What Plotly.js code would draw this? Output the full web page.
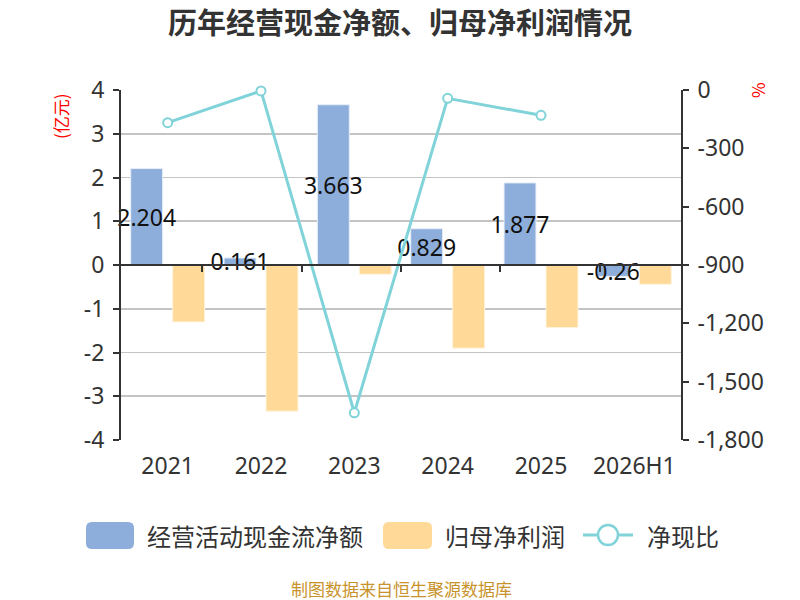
<!DOCTYPE html>
<html>
<head>
<meta charset="utf-8">
<script src="https://cdn.plot.ly/plotly-3.0.1.min.js"></script>
<style>
  html, body { margin: 0; padding: 0; background: #fff; }
  #chart { width: 800px; height: 600px; }
</style>
</head>
<body>
<div id="chart"></div>
<script>
var years = ['2021', '2022', '2023', '2024', '2025', '2026H1'];
var cashFlow = [2.204, 0.161, 3.663, 0.829, 1.877, -0.26];
var netProfit = [-1.30, -3.34, -0.21, -1.90, -1.43, -0.44];
var cashRatio = [-168, -4.8, -1660, -43, -130, null];

var leftTicks = [-4, -3, -2, -1, 0, 1, 2, 3, 4];
var leftTickText = ['-4', '-3', '-2', '-1', '0', '1', '2', '3', '4'];
var rightTicks = [-1800, -1500, -1200, -900, -600, -300, 0];
var rightTickText = ['-1,800', '-1,500', '-1,200', '-900', '-600', '-300', '0'];

var cashLabels = cashFlow.map(function(v) { return String(v); });

// plot area in pixels: left 121, right 681, top 90, bottom 440
function px(x) { return (x - 121) / 560; }
function py(y) { return (440 - y) / 350; }

function roundRect(x0, y0, x1, y1, r) {
  var rx = r / 560, ry = r / 350;
  var a = px(x0), b = px(x1), t = py(y0), u = py(y1);
  return 'M' + (a + rx) + ',' + t +
    ' L' + (b - rx) + ',' + t + ' Q' + b + ',' + t + ' ' + b + ',' + (t - ry) +
    ' L' + b + ',' + (u + ry) + ' Q' + b + ',' + u + ' ' + (b - rx) + ',' + u +
    ' L' + (a + rx) + ',' + u + ' Q' + a + ',' + u + ' ' + a + ',' + (u + ry) +
    ' L' + a + ',' + (t - ry) + ' Q' + a + ',' + t + ' ' + (a + rx) + ',' + t + ' Z';
}

var BLUE = '#8daedb';
var ORANGE = '#ffd998';
var TEAL = '#80d3d8';
var FONT = 'Noto Sans, Noto Sans CJK SC, sans-serif';
var CJK = 'Noto Sans CJK SC, sans-serif';

var data = [
  {
    type: 'bar',
    name: '经营活动现金流净额',
    x: years,
    y: cashFlow,
    marker: { color: BLUE, line: { color: '#e8eef8', width: 1 } },
    text: cashLabels,
    textposition: 'inside',
    insidetextanchor: 'middle',
    textangle: 0,
    constraintext: 'none',
    cliponaxis: false,
    textfont: { family: FONT, size: 23, color: '#111' },
    hoverinfo: 'skip'
  },
  {
    type: 'bar',
    name: '归母净利润',
    x: years,
    y: netProfit,
    marker: { color: ORANGE, line: { color: '#fff3dc', width: 1 } },
    hoverinfo: 'skip'
  },
  {
    type: 'scatter',
    mode: 'lines+markers',
    name: '净现比',
    x: years,
    y: cashRatio,
    yaxis: 'y2',
    line: { color: TEAL, width: 3 },
    marker: { symbol: 'circle', size: 9, color: '#fff', line: { color: TEAL, width: 2 } },
    cliponaxis: false,
    hoverinfo: 'skip'
  },
  {
    // zero line with category boundary ticks
    type: 'scatter',
    x: years,
    y: [null, null, null, null, null, null],
    xaxis: 'x2',
    showlegend: false,
    hoverinfo: 'skip'
  }
];

var layout = {
  width: 800,
  height: 600,
  margin: { l: 121, r: 119, t: 90, b: 160 },
  paper_bgcolor: '#fff',
  plot_bgcolor: '#fff',
  showlegend: false,
  barmode: 'group',
  bargap: 0.1,
  bargroupgap: 0.24,
  font: { family: FONT, color: '#333' },
  title: {
    text: '历年经营现金净额、归母净利润情况',
    font: { family: CJK, size: 29, color: '#333', weight: 'bold' },
    x: 0.5,
    xanchor: 'center',
    y: 0.96,
    yref: 'container',
    yanchor: 'middle'
  },
  xaxis: {
    type: 'category',
    showline: false,
    ticks: '',
    showgrid: false,
    zeroline: false,
    tickfont: { family: FONT, size: 23, color: '#333' },
    ticklabelstandoff: 10
  },
  xaxis2: {
    type: 'category',
    overlaying: 'x',
    anchor: 'free',
    position: 0.5,
    showline: true,
    linecolor: '#333',
    linewidth: 2,
    ticks: 'outside',
    tickson: 'boundaries',
    ticklen: 6,
    tickwidth: 2,
    tickcolor: '#333',
    showticklabels: false,
    showgrid: false,
    zeroline: false
  },
  yaxis: {
    range: [-4, 4],
    tickvals: leftTicks,
    ticktext: leftTickText,
    showgrid: true,
    gridcolor: '#c4c4c4',
    gridwidth: 1.6,
    zeroline: false,
    showline: true,
    linecolor: '#333',
    linewidth: 2,
    ticks: 'outside',
    ticklen: 6,
    tickwidth: 2,
    tickcolor: '#333',
    tickfont: { family: FONT, size: 23, color: '#333' },
    ticklabelstandoff: 4
  },
  yaxis2: {
    range: [-1800, 0],
    overlaying: 'y',
    side: 'right',
    tickvals: rightTicks,
    ticktext: rightTickText,
    showgrid: false,
    zeroline: false,
    showline: true,
    linecolor: '#333',
    linewidth: 2,
    ticks: 'outside',
    ticklen: 6,
    tickwidth: 2,
    tickcolor: '#333',
    tickfont: { family: FONT, size: 23, color: '#333' },
    ticklabelstandoff: 4
  },
  shapes: [
    { type: 'path', xref: 'paper', yref: 'paper', path: roundRect(86, 522, 134, 549, 6),
      fillcolor: BLUE, line: { width: 0 } },
    { type: 'path', xref: 'paper', yref: 'paper', path: roundRect(383, 522, 432, 549, 6),
      fillcolor: ORANGE, line: { width: 0 } },
    { type: 'line', xref: 'paper', yref: 'paper', x0: px(583), x1: px(633), y0: py(535), y1: py(535),
      line: { color: TEAL, width: 3 } },
    { type: 'circle', xref: 'paper', yref: 'paper', x0: px(598), x1: px(618), y0: py(525), y1: py(545),
      fillcolor: '#fff', line: { color: TEAL, width: 2.5 } }
  ],
  annotations: [
    { xref: 'paper', yref: 'paper', x: px(145), y: py(535), xanchor: 'left', yanchor: 'middle',
      text: '经营活动现金流净额', showarrow: false, font: { family: CJK, size: 24, color: '#333' } },
    { xref: 'paper', yref: 'paper', x: px(443), y: py(535), xanchor: 'left', yanchor: 'middle',
      text: '归母净利润', showarrow: false, font: { family: CJK, size: 24, color: '#333' } },
    { xref: 'paper', yref: 'paper', x: px(645), y: py(535), xanchor: 'left', yanchor: 'middle',
      text: '净现比', showarrow: false, font: { family: CJK, size: 24, color: '#333' } },
    { xref: 'paper', yref: 'paper', x: px(60), y: py(116), xanchor: 'center', yanchor: 'middle',
      text: '(亿元)', textangle: -90, showarrow: false, font: { family: CJK, size: 17, color: '#ff0000' } },
    { xref: 'paper', yref: 'paper', x: px(757), y: py(90), xanchor: 'center', yanchor: 'middle',
      text: '%', textangle: -90, showarrow: false, font: { family: CJK, size: 17, color: '#ff0000' } },
    { xref: 'paper', yref: 'paper', x: 0.5, y: py(588), xanchor: 'center', yanchor: 'middle',
      text: '制图数据来自恒生聚源数据库', showarrow: false, font: { family: CJK, size: 17, color: '#c8932c' } }
  ]
};

Plotly.newPlot('chart', data, layout, { staticPlot: true, displayModeBar: false });
</script>
</body>
</html>
